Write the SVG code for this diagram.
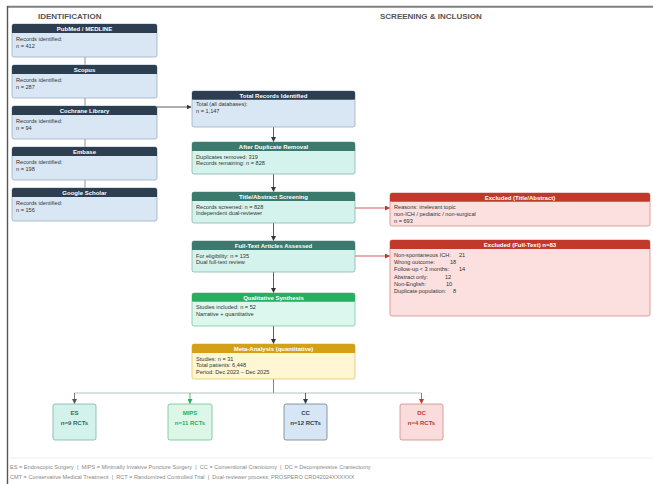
<svg xmlns="http://www.w3.org/2000/svg" width="653" height="484" viewBox="0 0 653 484">
<style>
text{font-family:"Liberation Sans",Arial,sans-serif;}
.sec{font-size:8px;font-weight:bold;fill:#555;}
.ht{font-size:6px;font-weight:bold;fill:#fff;text-anchor:middle;}
.bt{font-size:5.6px;fill:#333;}
.ft{font-size:5.6px;fill:#888;white-space:pre;}
.nb{font-size:6px;font-weight:bold;text-anchor:middle;}
.blue .body{fill:#d9e7f5;stroke:#9aaec2;stroke-width:0.8;}
.blue .hd{fill:#2c3e50;}
.teal .body{fill:#d5f3ed;stroke:#86b5aa;stroke-width:0.8;}
.teal .hd{fill:#3b7a6c;}
.green .body{fill:#dcf7ee;stroke:#7cc79a;stroke-width:0.8;}
.green .hd{fill:#27ae60;}
.gold .body{fill:#fff7d4;stroke:#e2c46a;stroke-width:0.8;}
.gold .hd{fill:#d4a017;}
.red .body{fill:#fbe0df;stroke:#d48c86;stroke-width:0.8;}
.red .hd{fill:#c0392b;}
.conn line,.conn path{fill:none;}
</style>
<defs>
<marker id="aDark" markerWidth="5" markerHeight="5" refX="4.5" refY="2.5" orient="auto" markerUnits="userSpaceOnUse"><path d="M0,0 L5,2.5 L0,5 Z" fill="#333"/></marker>
<marker id="aRed" markerWidth="5" markerHeight="5" refX="4.5" refY="2.5" orient="auto" markerUnits="userSpaceOnUse"><path d="M0,0 L5,2.5 L0,5 Z" fill="#c0392b"/></marker>
<marker id="aGreen" markerWidth="5" markerHeight="5" refX="4.5" refY="2.5" orient="auto" markerUnits="userSpaceOnUse"><path d="M0,0 L5,2.5 L0,5 Z" fill="#27ae60"/></marker>
<marker id="aNavy" markerWidth="5" markerHeight="5" refX="4.5" refY="2.5" orient="auto" markerUnits="userSpaceOnUse"><path d="M0,0 L5,2.5 L0,5 Z" fill="#2c3e50"/></marker>
<marker id="aGray" markerWidth="5" markerHeight="5" refX="4.5" refY="2.5" orient="auto" markerUnits="userSpaceOnUse"><path d="M0,0 L5,2.5 L0,5 Z" fill="#555"/></marker>
</defs>
<rect x="0" y="0" width="653" height="484" fill="#fff"/>
<line x1="7" y1="6.7" x2="653" y2="6.7" stroke="#808080" stroke-width="2"/>
<line x1="7.5" y1="6" x2="7.5" y2="484" stroke="#555" stroke-width="1.4"/>
<text class="sec" x="38" y="19">IDENTIFICATION</text>
<text class="sec" x="380" y="19">SCREENING &amp; INCLUSION</text>

<g id="connectors" class="conn">
<line x1="85" y1="57" x2="85" y2="65" stroke="#777" stroke-width="0.8"/>
<line x1="85" y1="98" x2="85" y2="106" stroke="#777" stroke-width="0.8"/>
<line x1="85" y1="139" x2="85" y2="147" stroke="#777" stroke-width="0.8"/>
<line x1="85" y1="180" x2="85" y2="188" stroke="#777" stroke-width="0.8"/>
<line x1="157" y1="107" x2="191" y2="107" stroke="#333" stroke-width="0.8" marker-end="url(#aDark)"/>
<line x1="273.5" y1="127" x2="273.5" y2="141.5" stroke="#333" stroke-width="0.8" marker-end="url(#aDark)"/>
<line x1="273.5" y1="174" x2="273.5" y2="191.5" stroke="#333" stroke-width="0.8" marker-end="url(#aDark)"/>
<line x1="273.5" y1="223" x2="273.5" y2="240.5" stroke="#333" stroke-width="0.8" marker-end="url(#aDark)"/>
<line x1="273.5" y1="272" x2="273.5" y2="292.5" stroke="#333" stroke-width="0.8" marker-end="url(#aDark)"/>
<line x1="273.5" y1="326" x2="273.5" y2="343.5" stroke="#333" stroke-width="0.8" marker-end="url(#aDark)"/>
<line x1="355" y1="208" x2="389.5" y2="208" stroke="#c0392b" stroke-width="0.8" marker-end="url(#aRed)"/>
<line x1="355" y1="256" x2="389.5" y2="256" stroke="#c0392b" stroke-width="0.8" marker-end="url(#aRed)"/>
<line x1="273.5" y1="379" x2="273.5" y2="393" stroke="#666" stroke-width="0.8"/>
<line x1="74.5" y1="393" x2="421.5" y2="393" stroke="#9fb5b0" stroke-width="0.8"/>
<line x1="74.5" y1="393" x2="74.5" y2="403.5" stroke="#555" stroke-width="0.8" marker-end="url(#aGray)"/>
<line x1="190" y1="393" x2="190" y2="403.5" stroke="#27ae60" stroke-width="0.8" marker-end="url(#aGreen)"/>
<line x1="305.5" y1="393" x2="305.5" y2="403.5" stroke="#2c3e50" stroke-width="0.8" marker-end="url(#aNavy)"/>
<line x1="421.5" y1="393" x2="421.5" y2="403.5" stroke="#c0392b" stroke-width="0.8" marker-end="url(#aRed)"/>
</g>

<g id="pubmed" class="blue">
<rect class="body" x="12" y="24" width="145" height="33" rx="2"/>
<rect class="hd" x="12" y="24" width="145" height="9" rx="2"/><rect class="hd" x="12" y="29" width="145" height="4"/>
<text class="ht" x="84.5" y="31">PubMed / MEDLINE</text>
<text class="bt" x="16" y="41">Records identified:</text>
<text class="bt" x="16" y="47.5">n = 412</text>
</g>
<g id="scopus" class="blue">
<rect class="body" x="12" y="65" width="145" height="33" rx="2"/>
<rect class="hd" x="12" y="65" width="145" height="9" rx="2"/><rect class="hd" x="12" y="70" width="145" height="4"/>
<text class="ht" x="84.5" y="72">Scopus</text>
<text class="bt" x="16" y="82">Records identified:</text>
<text class="bt" x="16" y="88.5">n = 287</text>
</g>
<g id="cochrane" class="blue">
<rect class="body" x="12" y="106" width="145" height="33" rx="2"/>
<rect class="hd" x="12" y="106" width="145" height="9" rx="2"/><rect class="hd" x="12" y="111" width="145" height="4"/>
<text class="ht" x="84.5" y="113">Cochrane Library</text>
<text class="bt" x="16" y="123">Records identified:</text>
<text class="bt" x="16" y="129.5">n = 94</text>
</g>
<g id="embase" class="blue">
<rect class="body" x="12" y="147" width="145" height="33" rx="2"/>
<rect class="hd" x="12" y="147" width="145" height="9" rx="2"/><rect class="hd" x="12" y="152" width="145" height="4"/>
<text class="ht" x="84.5" y="154">Embase</text>
<text class="bt" x="16" y="164">Records identified:</text>
<text class="bt" x="16" y="170.5">n = 198</text>
</g>
<g id="scholar" class="blue">
<rect class="body" x="12" y="188" width="145" height="33" rx="2"/>
<rect class="hd" x="12" y="188" width="145" height="9" rx="2"/><rect class="hd" x="12" y="193" width="145" height="4"/>
<text class="ht" x="84.5" y="195">Google Scholar</text>
<text class="bt" x="16" y="205">Records identified:</text>
<text class="bt" x="16" y="211.5">n = 156</text>
</g>

<g id="total" class="blue">
<rect class="body" x="192" y="91" width="163" height="36" rx="2"/>
<rect class="hd" x="192" y="91" width="163" height="8.5" rx="2"/><rect class="hd" x="192" y="95" width="163" height="4.5"/>
<text class="ht" x="273.5" y="97.5">Total Records Identified</text>
<text class="bt" x="196" y="106">Total (all databases):</text>
<text class="bt" x="196" y="112.5">n = 1,147</text>
</g>
<g id="dedup" class="teal">
<rect class="body" x="192" y="142" width="163" height="32" rx="2"/>
<rect class="hd" x="192" y="142" width="163" height="9" rx="2"/><rect class="hd" x="192" y="147" width="163" height="4"/>
<text class="ht" x="273.5" y="149">After Duplicate Removal</text>
<text class="bt" x="196" y="158.5">Duplicates removed: 319</text>
<text class="bt" x="196" y="165">Records remaining: n = 828</text>
</g>
<g id="screening" class="teal">
<rect class="body" x="192" y="192" width="163" height="31" rx="2"/>
<rect class="hd" x="192" y="192" width="163" height="9" rx="2"/><rect class="hd" x="192" y="197" width="163" height="4"/>
<text class="ht" x="273.5" y="199">Title/Abstract Screening</text>
<text class="bt" x="196" y="208.5">Records screened: n = 828</text>
<text class="bt" x="196" y="215">Independent dual-reviewer</text>
</g>
<g id="fulltext" class="teal">
<rect class="body" x="192" y="241" width="163" height="31" rx="2"/>
<rect class="hd" x="192" y="241" width="163" height="9" rx="2"/><rect class="hd" x="192" y="246" width="163" height="4"/>
<text class="ht" x="273.5" y="248">Full-Text Articles Assessed</text>
<text class="bt" x="196" y="257.5">For eligibility: n = 135</text>
<text class="bt" x="196" y="264">Dual full-text review</text>
</g>
<g id="qualitative" class="green">
<rect class="body" x="192" y="293" width="163" height="33" rx="2"/>
<rect class="hd" x="192" y="293" width="163" height="8.5" rx="2"/><rect class="hd" x="192" y="297" width="163" height="4.5"/>
<text class="ht" x="273.5" y="299.5">Qualitative Synthesis</text>
<text class="bt" x="196" y="309">Studies included: n = 52</text>
<text class="bt" x="196" y="315.5">Narrative + quantitative</text>
</g>
<g id="meta" class="gold">
<rect class="body" x="192" y="344" width="163" height="35" rx="2"/>
<rect class="hd" x="192" y="344" width="163" height="9" rx="2"/><rect class="hd" x="192" y="349" width="163" height="4"/>
<text class="ht" x="273.5" y="351">Meta-Analysis (quantitative)</text>
<text class="bt" x="196" y="360.5">Studies: n = 31</text>
<text class="bt" x="196" y="367">Total patients: 6,448</text>
<text class="bt" x="196" y="373.5">Period: Dec 2023 – Dec 2025</text>
</g>

<g id="excl-ta" class="red">
<rect class="body" x="390" y="193" width="260" height="33" rx="2"/>
<rect class="hd" x="390" y="193" width="260" height="8.5" rx="2"/><rect class="hd" x="390" y="197" width="260" height="4.5"/>
<text class="ht" x="520" y="199.5">Excluded (Title/Abstract)</text>
<text class="bt" x="394" y="209">Reasons: irrelevant topic</text>
<text class="bt" x="394" y="215.8">non-ICH / pediatric / non-surgical</text>
<text class="bt" x="394" y="222.6">n = 693</text>
</g>
<g id="excl-ft" class="red">
<rect class="body" x="390" y="240" width="260" height="76" rx="2"/>
<rect class="hd" x="390" y="240" width="260" height="9" rx="2"/><rect class="hd" x="390" y="245" width="260" height="4"/>
<text class="ht" x="520" y="247">Excluded (Full-Text) n=83</text>
<text class="bt" x="394" y="257">Non-spontaneous ICH:<tspan x="459">21</tspan></text>
<text class="bt" x="394" y="264.2">Wrong outcome:<tspan x="450">18</tspan></text>
<text class="bt" x="394" y="271.4">Follow-up &lt; 3 months:<tspan x="459">14</tspan></text>
<text class="bt" x="394" y="278.6">Abstract only:<tspan x="445">12</tspan></text>
<text class="bt" x="394" y="285.8">Non-English:<tspan x="446">10</tspan></text>
<text class="bt" x="394" y="293">Duplicate population:<tspan x="453">8</tspan></text>
</g>

<g id="es">
<rect x="53" y="404" width="43" height="36" rx="2" fill="#d3f2ec" stroke="#7eb3a8" stroke-width="0.8"/>
<text class="nb" x="74.5" y="415" fill="#2e6b5e">ES</text>
<text class="nb" x="74.5" y="425" fill="#2e6b5e">n=9 RCTs</text>
</g>
<g id="mips">
<rect x="168" y="404" width="44" height="36" rx="2" fill="#dcf7e8" stroke="#6cc08a" stroke-width="0.8"/>
<text class="nb" x="190" y="415" fill="#27ae60">MIPS</text>
<text class="nb" x="190" y="425" fill="#27ae60">n=11 RCTs</text>
</g>
<g id="cc">
<rect x="284" y="404" width="43" height="36" rx="2" fill="#d6e6f5" stroke="#6f7f90" stroke-width="0.8"/>
<text class="nb" x="305.5" y="415" fill="#2c3e50">CC</text>
<text class="nb" x="305.5" y="425" fill="#2c3e50">n=12 RCTs</text>
</g>
<g id="dc">
<rect x="400" y="404" width="43" height="36" rx="2" fill="#fbdcdc" stroke="#cc8a86" stroke-width="0.8"/>
<text class="nb" x="421.5" y="415" fill="#c0392b">DC</text>
<text class="nb" x="421.5" y="425" fill="#c0392b">n=4 RCTs</text>
</g>

<line x1="8" y1="458" x2="653" y2="458" stroke="#eee" stroke-width="1"/>
<text class="ft" x="10" y="469" xml:space="preserve">ES = Endoscopic Surgery  |  MIPS = Minimally Invasive Puncture Surgery  |  CC = Conventional Craniotomy  |  DC = Decompressive Craniectomy</text>
<text class="ft" x="10" y="479" xml:space="preserve">CMT = Conservative Medical Treatment  |  RCT = Randomized Controlled Trial  |  Dual-reviewer process; PROSPERO CRD42024XXXXXX</text>
</svg>
